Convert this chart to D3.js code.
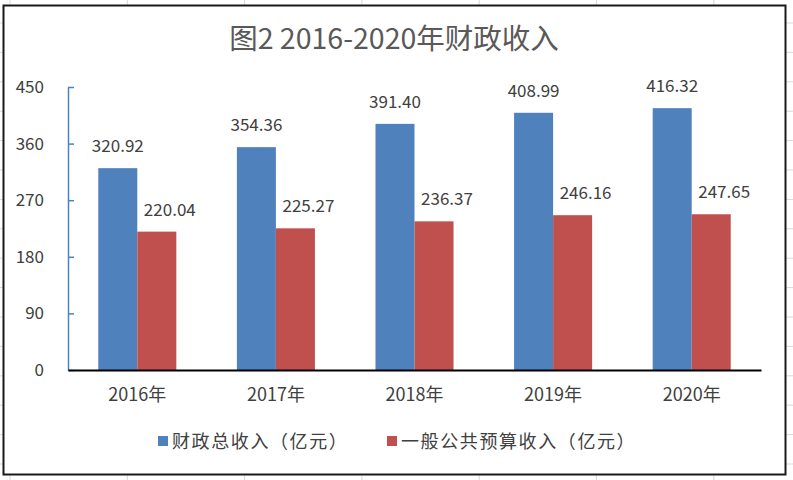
<!DOCTYPE html>
<html>
<head>
<meta charset="utf-8">
<script src="https://cdn.jsdelivr.net/npm/d3@7"></script>
<style>
  body { margin: 0; background: #fff; }
  svg { display: block; }
  text { font-family: "Noto Sans CJK SC", "Noto Sans", sans-serif; }
</style>
</head>
<body>
<svg id="chart" width="793" height="480"></svg>
<script>
// chart data
var years = ["2016年", "2017年", "2018年", "2019年", "2020年"];
var seriesNames = ["财政总收入（亿元）", "一般公共预算收入（亿元）"];
var totalIncome = [320.92, 354.36, 391.40, 408.99, 416.32];
var budgetIncome = [220.04, 225.27, 236.37, 246.16, 247.65];
var yTicks = [0, 90, 180, 270, 360, 450];
var title = "图2 2016-2020年财政收入";

var colors = ["#4f81bd", "#c0504d"];

var svg = d3.select("#chart");

// spreadsheet grid peeking out round the chart object
var grid = svg.append("g").attr("stroke", "#d9d9d9").attr("stroke-width", 1);
d3.range(10, 793, 117.3).forEach(function(x) {
  grid.append("line").attr("x1", x).attr("x2", x).attr("y1", 0).attr("y2", 5);
  grid.append("line").attr("x1", x).attr("x2", x).attr("y1", 475).attr("y2", 480);
});
d3.range(23, 480, 29.4).forEach(function(y) {
  grid.append("line").attr("x1", 0).attr("x2", 3).attr("y1", y).attr("y2", y);
  grid.append("line").attr("x1", 786).attr("x2", 793).attr("y1", y).attr("y2", y);
});

// chart frame
svg.append("rect")
  .attr("x", 3.5).attr("y", 5.5)
  .attr("width", 782).attr("height", 469)
  .attr("fill", "#fff")
  .attr("stroke", "#1a1a1a")
  .attr("stroke-width", 2);

svg.append("text")
  .attr("x", 394).attr("y", 49)
  .attr("text-anchor", "middle")
  .attr("font-size", 28.5)
  .attr("fill", "#595959")
  .text(title);

var plotLeft = 68, plotRight = 761, plotTop = 87, plotBottom = 370;

var x = d3.scaleBand().domain(years).range([plotLeft, plotRight])
  .paddingInner(0.437).paddingOuter(0.2185);
var xs = d3.scaleBand().domain([0, 1]).range([0, x.bandwidth()]);
var y = d3.scaleLinear().domain([0, 450]).range([plotBottom, plotTop]);

var rows = years.map(function(yr, i) {
  return { year: yr, values: [totalIncome[i], budgetIncome[i]] };
});

var groups = svg.append("g").selectAll("g")
  .data(rows).enter().append("g")
  .attr("transform", function(d) { return "translate(" + x(d.year) + ",0)"; });

groups.selectAll("rect")
  .data(function(d) { return d.values; })
  .enter().append("rect")
  .attr("x", function(d, i) { return xs(i); })
  .attr("y", function(d) { return y(d); })
  .attr("width", xs.bandwidth())
  .attr("height", function(d) { return plotBottom - y(d); })
  .attr("fill", function(d, i) { return colors[i]; });

// data labels, the red ones sit a little to the right like in Excel
groups.selectAll("text")
  .data(function(d) { return d.values; })
  .enter().append("text")
  .attr("x", function(d, i) { return xs(i) + xs.bandwidth() / 2 + (i == 1 ? 13 : 0); })
  .attr("y", function(d) { return y(d) - 16; })
  .attr("text-anchor", "middle")
  .attr("font-size", 17)
  .attr("fill", "#404040")
  .text(function(d) { return d.toFixed(2); });

// y axis
var yAxis = svg.append("g")
  .attr("transform", "translate(" + plotLeft + ",0)")
  .call(d3.axisLeft(y).tickValues(yTicks).tickSize(-6).tickSizeOuter(0).tickPadding(24));
yAxis.select(".domain").attr("stroke", "#4f81bd").attr("stroke-width", 1.5);
yAxis.selectAll(".tick line").attr("stroke", "#4f81bd").attr("stroke-width", 1.5);
yAxis.selectAll(".tick text")
  .attr("font-size", 17)
  .attr("fill", "#404040")
  .style("font-family", "'Noto Sans CJK SC', sans-serif");

// x axis
var xAxis = svg.append("g")
  .attr("transform", "translate(0," + plotBottom + ")")
  .call(d3.axisBottom(x).tickSize(0).tickPadding(18));
xAxis.select(".domain").attr("stroke", "#000").attr("stroke-width", 2);
xAxis.selectAll(".tick text")
  .attr("font-size", 18)
  .attr("fill", "#404040")
  .style("font-family", "'Noto Sans CJK SC', sans-serif");

// legend
var legendX = [158, 387];
var legend = svg.append("g").selectAll("g")
  .data(seriesNames).enter().append("g")
  .attr("transform", function(d, i) { return "translate(" + legendX[i] + ",436)"; });
legend.append("rect")
  .attr("width", 10).attr("height", 10)
  .attr("fill", function(d, i) { return colors[i]; });
legend.append("text")
  .attr("x", 14).attr("y", 12)
  .attr("font-size", 18)
  .attr("letter-spacing", 1.6)
  .attr("fill", "#404040")
  .text(function(d) { return d; });
</script>
</body>
</html>
